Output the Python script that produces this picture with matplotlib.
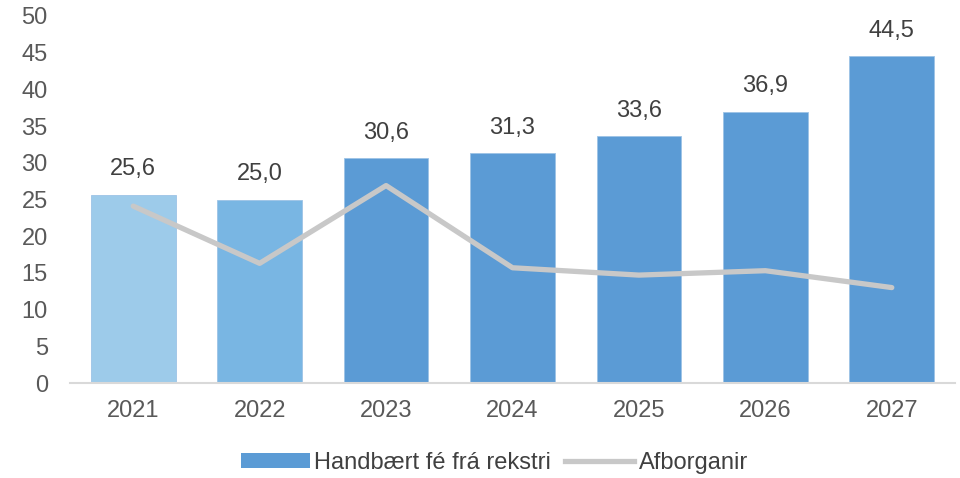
import matplotlib
matplotlib.use("Agg")
import matplotlib.pyplot as plt
from matplotlib.patches import Patch
from matplotlib.lines import Line2D

plt.rcParams['font.family'] = ['Liberation Sans', 'DejaVu Sans']

years = ["2021", "2022", "2023", "2024", "2025", "2026", "2027"]
cash = [25.6, 25.0, 30.6, 31.3, 33.6, 36.9, 44.5]
repay = [24.1, 16.3, 26.9, 15.7, 14.7, 15.3, 13.0]
bar_colors = ["#9DCBEA", "#79B6E3", "#5B9BD5", "#5B9BD5", "#5B9BD5", "#5B9BD5", "#5B9BD5"]

fig = plt.figure(figsize=(9.6, 4.78), dpi=100)
ax = fig.add_axes([70/960, 1-383/478, 885/960, 367/478])

x = range(len(years))
bars = ax.bar(x, cash, width=0.67, color=bar_colors, edgecolor="#9DC3E6", linewidth=0.6, zorder=2)
ax.plot(x, repay, color="#C8C8C8", linewidth=3.8, solid_capstyle="round", zorder=3)

# value labels above bars, comma as decimal sign
for xi, v in zip(x, cash):
    ax.text(xi, v + 2.0, f"{v:.1f}".replace(".", ","), ha="center", va="bottom",
            fontsize=17, color="#404040")

ax.set_xlim(-0.5, 6.5)
ax.set_ylim(0, 50)
ax.set_yticks(range(0, 51, 5))
ax.set_xticks(list(x))
ax.set_xticklabels(years)
ax.tick_params(axis="both", length=0, labelsize=17, labelcolor="#595959")
ax.tick_params(axis="x", pad=12)
ax.tick_params(axis="y", pad=16)
for s in ["top", "right", "left"]:
    ax.spines[s].set_visible(False)
ax.spines["bottom"].set_color("#D9D9D9")
ax.spines["bottom"].set_linewidth(1.5)

handles = [Patch(facecolor="#5B9BD5", edgecolor="none"),
           Line2D([0], [0], color="#C8C8C8", linewidth=3.8)]
fig.legend(handles, ["Handbært fé frá rekstri", "Afborganir"], loc="center",
           bbox_to_anchor=(0.515, 1-463/478), ncol=2, frameon=False, fontsize=17,
           labelcolor="#404040", handlelength=2.9, handletextpad=0.2, columnspacing=0.6,
           handleheight=0.6)

fig.savefig("out.png", dpi=100)
